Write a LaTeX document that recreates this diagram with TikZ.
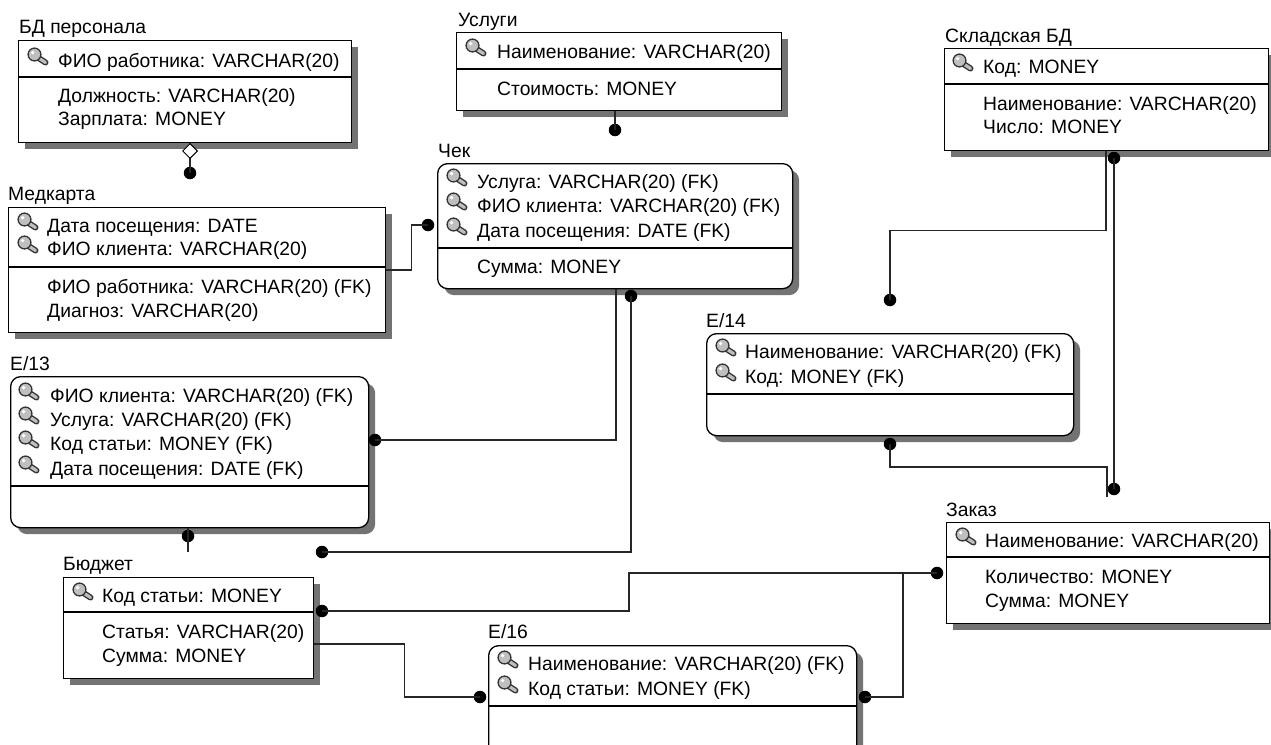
\documentclass[tikz,border=0pt]{standalone}
\usepackage{fontspec}
\setmainfont{Liberation Sans}
\usetikzlibrary{shadows,shapes.geometric}
\newcommand\keyic[2]{%
  \begin{scope}[shift={(#1,#2)}]
    \draw[line width=6pt, black!80, line cap=round] (10,-10) -- (18.5,-4.5);
    \draw[line width=3.2pt, gray!50, line cap=round] (10,-10) -- (18.5,-4.5);
    \filldraw[fill=gray!50, draw=black!80, line width=1.3pt] (7.5,-12.5) circle (6.4);
    \fill[white] (5.6,-14.4) circle (1.9);
  \end{scope}}
\tikzset{
  ebox/.style={draw=black, line width=1.3pt, fill=white, inner sep=0pt, anchor=north west,
     drop shadow={shadow xshift=6.5pt, shadow yshift=-6.5pt, fill=black!55, opacity=1}},
  rbox/.style={ebox, rounded corners=10pt},
  txt/.style={anchor=base west, inner sep=0pt, font=\fontsize{19.3}{23}\selectfont},
  sepl/.style={line width=1.3pt},
  conn/.style={line width=1.4pt, black!85},
  dotn/.style={circle, fill=black, minimum size=12.5pt, inner sep=0pt},
  hdiam/.style={diamond, draw=black, fill=white, line width=1pt, minimum width=15pt, minimum height=15pt, inner sep=0pt}
}
\begin{document}
\begin{tikzpicture}[x=1pt,y=-1pt]
\clip (0,0) rectangle (1271,744);
\fill[white] (0,0) rectangle (1271,744);

% ---------- boxes ----------
\node[ebox, minimum width=333pt, minimum height=102pt] (bdp) at (18,40) {};
\node[ebox, minimum width=377pt, minimum height=125pt] (med) at (8,207) {};
\node[ebox, minimum width=325pt, minimum height=78pt] (usl) at (456,32) {};
\node[rbox, minimum width=355pt, minimum height=125pt] (chek) at (437,163) {};
\node[ebox, minimum width=324pt, minimum height=102pt] (skl) at (944,48) {};
\node[rbox, minimum width=358pt, minimum height=151pt] (e13) at (10,376) {};
\node[ebox, minimum width=250pt, minimum height=101pt] (bud) at (63,577) {};
\node[rbox, minimum width=367pt, minimum height=102pt] (e14) at (706,333) {};
\node[rbox, minimum width=368pt, minimum height=125pt] (e16) at (488,645) {};
\node[ebox, minimum width=323pt, minimum height=101pt] (zak) at (946,522) {};

% ---------- separators ----------
\draw[sepl] (bdp.west |- 0,77) -- (bdp.east |- 0,77);
\draw[sepl] (med.west |- 0,267) -- (med.east |- 0,267);
\draw[sepl] (usl.west |- 0,69) -- (usl.east |- 0,69);
\draw[sepl] (chek.west |- 0,248) -- (chek.east |- 0,248);
\draw[sepl] (skl.west |- 0,84) -- (skl.east |- 0,84);
\draw[sepl] (e13.west |- 0,486) -- (e13.east |- 0,486);
\draw[sepl] (bud.west |- 0,612) -- (bud.east |- 0,612);
\draw[sepl] (e14.west |- 0,394) -- (e14.east |- 0,394);
\draw[sepl] (e16.west |- 0,706) -- (e16.east |- 0,706);
\draw[sepl] (zak.west |- 0,557) -- (zak.east |- 0,557);

% ---------- БД персонала ----------
\node[txt] (bdp-t) at (19,33) {БД персонала};
\keyic{27}{67}
\node[txt] (bdp-1) at (58,67) {ФИО работника: VARCHAR(20)};
\node[txt] (bdp-2) at (58,102) {Должность: VARCHAR(20)};
\node[txt] (bdp-3) at (58,125) {Зарплата: MONEY};

% ---------- Медкарта ----------
\node[txt] (med-t) at (8,200) {Медкарта};
\keyic{17}{232}
\keyic{17}{255}
\node[txt] (med-1) at (47,232) {Дата посещения: DATE};
\node[txt] (med-2) at (47,255) {ФИО клиента: VARCHAR(20)};
\node[txt] (med-3) at (47,293) {ФИО работника: VARCHAR(20) (FK)};
\node[txt] (med-4) at (47,317) {Диагноз: VARCHAR(20)};

% ---------- Услуги ----------
\node[txt] (usl-t) at (458,27) {Услуги};
\keyic{465}{58}
\node[txt] (usl-1) at (497,58) {Наименование: VARCHAR(20)};
\node[txt] (usl-2) at (497,95) {Стоимость: MONEY};

% ---------- Чек ----------
\node[txt] (chek-t) at (438,157) {Чек};
\keyic{446}{188}
\keyic{446}{212}
\keyic{446}{237}
\node[txt] (chek-1) at (477,188) {Услуга: VARCHAR(20) (FK)};
\node[txt] (chek-2) at (477,212) {ФИО клиента: VARCHAR(20) (FK)};
\node[txt] (chek-3) at (477,237) {Дата посещения: DATE (FK)};
\node[txt] (chek-4) at (477,273) {Сумма: MONEY};

% ---------- Складская БД ----------
\node[txt] (skl-t) at (945,42) {Складская БД};
\keyic{952}{73}
\node[txt] (skl-1) at (983,73) {Код: MONEY};
\node[txt] (skl-2) at (983,110) {Наименование: VARCHAR(20)};
\node[txt] (skl-3) at (983,133) {Число: MONEY};

% ---------- E/13 ----------
\node[txt] (e13-t) at (10,370) {E/13};
\keyic{18}{402}
\keyic{18}{426}
\keyic{18}{450}
\keyic{18}{475}
\node[txt] (e13-1) at (50,402) {ФИО клиента: VARCHAR(20) (FK)};
\node[txt] (e13-2) at (50,426) {Услуга: VARCHAR(20) (FK)};
\node[txt] (e13-3) at (50,450) {Код статьи: MONEY (FK)};
\node[txt] (e13-4) at (50,475) {Дата посещения: DATE (FK)};

% ---------- Бюджет ----------
\node[txt] (bud-t) at (63,570) {Бюджет};
\keyic{72}{602}
\node[txt] (bud-1) at (102,602) {Код статьи: MONEY};
\node[txt] (bud-2) at (102,638) {Статья: VARCHAR(20)};
\node[txt] (bud-3) at (102,662) {Сумма: MONEY};

% ---------- E/14 ----------
\node[txt] (e14-t) at (706,327) {E/14};
\keyic{715}{358}
\keyic{715}{383}
\node[txt] (e14-1) at (745,358) {Наименование: VARCHAR(20) (FK)};
\node[txt] (e14-2) at (745,383) {Код: MONEY (FK)};

% ---------- E/16 ----------
\node[txt] (e16-t) at (488,638) {E/16};
\keyic{497}{670}
\keyic{497}{695}
\node[txt] (e16-1) at (528,670) {Наименование: VARCHAR(20) (FK)};
\node[txt] (e16-2) at (528,695) {Код статьи: MONEY (FK)};

% ---------- Заказ ----------
\node[txt] (zak-t) at (946,516) {Заказ};
\keyic{955}{547}
\node[txt] (zak-1) at (985,547) {Наименование: VARCHAR(20)};
\node[txt] (zak-2) at (985,583) {Количество: MONEY};
\node[txt] (zak-3) at (985,607) {Сумма: MONEY};

% ---------- connector end dots ----------
\node[dotn] (d1) at (190,173) {};
\node[dotn] (d2) at (428,225) {};
\node[dotn] (d3) at (615,130) {};
\node[dotn] (d4) at (375,440) {};
\node[dotn] (d5a) at (631,296) {};
\node[dotn] (d5b) at (322,552) {};
\node[dotn] (d6) at (188,536) {};
\node[dotn] (d7a) at (322,611) {};
\node[dotn] (d7b) at (937,573) {};
\node[dotn] (d8) at (865,697) {};
\node[dotn] (d9) at (480,697) {};
\node[dotn] (d10) at (890,300) {};
\node[dotn] (d11a) at (1114,158) {};
\node[dotn] (d11b) at (1114,489) {};
\node[dotn] (d12) at (890,444) {};
\coordinate (j8) at (903,573);
\coordinate (c6) at (188,552);
\coordinate (c12) at (1107,497);

% ---------- connectors ----------
\draw[conn] (bdp.south -| d1) -- (d1.center);
\node[hdiam] (dm1) at (190,151) {};
\draw[conn] (med.east |- 0,270) -- ++(25,0) |- (d2.center);
\draw[conn] (usl.south -| d3) -- (d3.center);
\draw[conn] (chek.south -| 616,0) |- (d4.center);
\draw[conn] (d5a.center) |- (d5b.center);
\draw[conn] (e13.south -| d6) -- (c6);
\draw[conn] (d7a.center) -- ++(307,0) |- (d7b.center);
\draw[conn] (j8) |- (d8.center);
\draw[conn] (bud.east |- 0,644) -- ++(90,0) |- (d9.center);
\draw[conn] (skl.south -| 1106,0) -- ++(0,79) -| (d10.center);
\draw[conn] (d11a.center) -- (d11b.center);
\draw[conn] (d12.center) -- ++(0,23) -| (c12);
\end{tikzpicture}
\end{document}
